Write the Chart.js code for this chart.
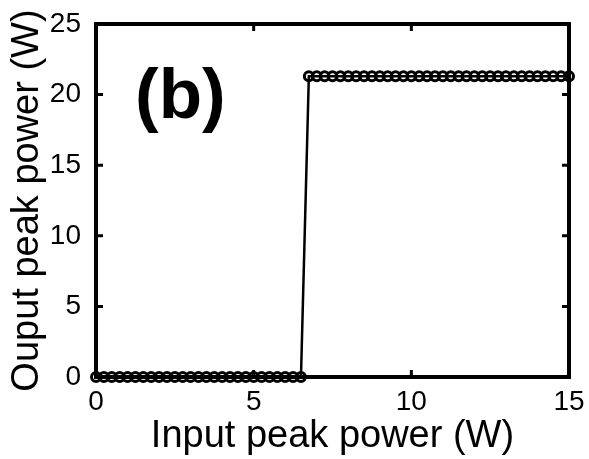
<!DOCTYPE html>
<html>
<head>
<meta charset="utf-8">
<script src="https://cdn.jsdelivr.net/npm/chart.js@4/dist/chart.umd.min.js"></script>
<style>
  html, body { margin: 0; padding: 0; background: #fff; }
  #wrap { width: 589px; height: 459px; }
</style>
</head>
<body>
<div id="wrap"><canvas id="chart" width="589" height="459"></canvas></div>
<script>
// 入力ピークパワー (W)
const inputPower = [
  0, 0.25, 0.5, 0.75, 1, 1.25, 1.5, 1.75, 2, 2.25, 2.5, 2.75, 3, 3.25, 3.5, 3.75,
  4, 4.25, 4.5, 4.75, 5, 5.25, 5.5, 5.75, 6, 6.25, 6.5,
  6.75, 7, 7.25, 7.5, 7.75, 8, 8.25, 8.5, 8.75, 9, 9.25, 9.5, 9.75, 10, 10.25,
  10.5, 10.75, 11, 11.25, 11.5, 11.75, 12, 12.25, 12.5, 12.75, 13, 13.25, 13.5,
  13.75, 14, 14.25, 14.5, 14.75, 15
];

// 出力ピークパワー (W)
const outputPower = [
  0, 0, 0, 0, 0, 0, 0, 0, 0, 0, 0, 0, 0, 0, 0, 0,
  0, 0, 0, 0, 0, 0, 0, 0, 0, 0, 0,
  21.3, 21.3, 21.3, 21.3, 21.3, 21.3, 21.3, 21.3, 21.3, 21.3, 21.3, 21.3, 21.3, 21.3, 21.3,
  21.3, 21.3, 21.3, 21.3, 21.3, 21.3, 21.3, 21.3, 21.3, 21.3, 21.3, 21.3, 21.3,
  21.3, 21.3, 21.3, 21.3, 21.3, 21.3
];

const xTicks = [0, 5, 10, 15];
const yTicks = [0, 5, 10, 15, 20, 25];

const FONT = '"Liberation Sans", Arial, sans-serif';

// -----------------------------------------------
// 枠線と内向きの目盛り、(b) ラベル
// -----------------------------------------------
const boxPlugin = {
  id: 'box',
  beforeDatasetsDraw(chart) {
    const ctx = chart.ctx;
    const a = chart.chartArea;
    const xs = chart.scales.x;
    const ys = chart.scales.y;
    const len = 7;
    ctx.save();
    ctx.strokeStyle = '#000';
    ctx.lineWidth = 3;
    ctx.beginPath();
    xTicks.forEach(function(v) {
      const px = xs.getPixelForValue(v);
      ctx.moveTo(px, a.bottom); ctx.lineTo(px, a.bottom - len);
      ctx.moveTo(px, a.top);    ctx.lineTo(px, a.top + len);
    });
    yTicks.forEach(function(v) {
      const py = ys.getPixelForValue(v);
      ctx.moveTo(a.left, py);  ctx.lineTo(a.left + len, py);
      ctx.moveTo(a.right, py); ctx.lineTo(a.right - len, py);
    });
    ctx.stroke();
    ctx.lineWidth = 4;
    ctx.strokeRect(a.left, a.top, a.right - a.left, a.bottom - a.top);
    ctx.font = 'bold 71px ' + FONT;
    ctx.fillStyle = '#000';
    ctx.textBaseline = 'alphabetic';
    ctx.fillText('(b)', 135, 118);
    ctx.restore();
  }
};

const points = inputPower.map(function(x, i) { return { x: x, y: outputPower[i] }; });

new Chart(document.getElementById('chart'), {
  type: 'line',
  data: {
    datasets: [{
      data            : points,
      borderColor     : '#000',
      borderWidth     : 2.5,
      pointRadius     : 4.5,
      pointBorderWidth: 3,
      pointBorderColor: '#000',
      pointBackgroundColor: 'rgba(255,255,255,0)',
      tension         : 0,
      clip            : false
    }]
  },
  options: {
    responsive: false,
    animation: false,
    layout: { padding: { top: 24, right: 20, left: 0, bottom: 0 } },
    plugins: {
      legend: { display: false },
      tooltip: { enabled: false }
    },
    scales: {
      x: {
        type: 'linear',
        min: 0, max: 15,
        afterBuildTicks: function(s) { s.ticks = xTicks.map(function(v) { return { value: v }; }); },
        afterFit: function(s) { s.height = 82; },
        grid: { display: false },
        border: { display: false },
        ticks: { color: '#000', font: { family: FONT, size: 28 }, padding: 0, maxRotation: 0 },
        title: {
          display: true, text: 'Input peak power (W)', color: '#000',
          font: { family: FONT, size: 38, lineHeight: 1 }, padding: { top: 0, bottom: 3 }
        }
      },
      y: {
        min: 0, max: 25,
        afterBuildTicks: function(s) { s.ticks = yTicks.map(function(v) { return { value: v }; }); },
        afterFit: function(s) { s.width = 96; },
        grid: { display: false },
        border: { display: false },
        ticks: { color: '#000', font: { family: FONT, size: 28 }, padding: 7 },
        title: {
          display: true, text: 'Ouput peak power (W)', color: '#000',
          font: { family: FONT, size: 38, lineHeight: 1 }, padding: { top: 9, bottom: 0 }
        }
      }
    }
  },
  plugins: [boxPlugin]
});
</script>
</body>
</html>
